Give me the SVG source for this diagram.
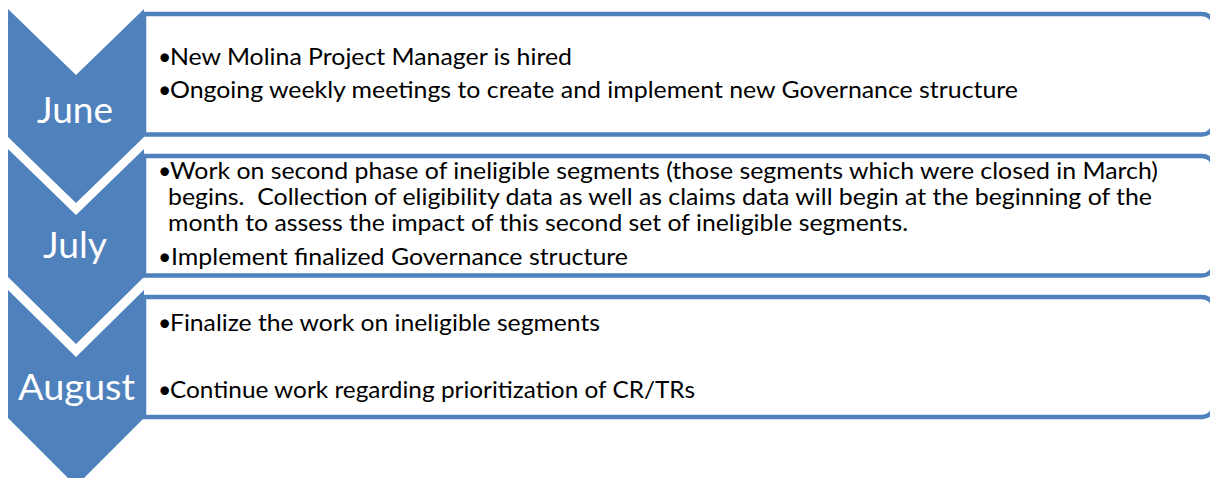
<svg xmlns="http://www.w3.org/2000/svg" width="1210" height="478" viewBox="0 0 1210 478">
<defs>
<style>
.chev{fill:#4F81BD;}
.box{fill:#FFFFFF;stroke:#4F81BD;stroke-width:4.5;}
.month{font-family:Lato,"Open Sans","Liberation Sans",sans-serif;font-size:36px;fill:#FFFFFF;text-anchor:middle;}
.item{font-family:Lato,"Open Sans","Liberation Sans",sans-serif;font-size:23px;fill:#000000;}
</style>
</defs>
<rect width="1210" height="478" fill="#FFFFFF"/>
<g id="june">
<path class="chev" d="M8,9 L76,75 L144,9 L144,137 L76,203 L8,137 Z"/>
<path class="box" d="M144,14 H1202 A12,12 0 0 1 1214,26 V122.5 A12,12 0 0 1 1202,134.5 H144 Z"/>
<text class="month" x="75" y="123" textLength="76" lengthAdjust="spacingAndGlyphs">June</text>
<text class="item" y="65"><tspan x="158">•</tspan><tspan x="170" textLength="402" lengthAdjust="spacingAndGlyphs">New Molina Project Manager is hired</tspan></text>
<text class="item" y="98"><tspan x="158">•</tspan><tspan x="170" textLength="848" lengthAdjust="spacingAndGlyphs">Ongoing weekly meetings to create and implement new Governance structure</tspan></text>
</g>
<g id="july">
<path class="chev" d="M8,149 L76,215 L144,149 L144,277 L76,344 L8,277 Z"/>
<path class="box" d="M144,156 H1202 A12,12 0 0 1 1214,168 V263.5 A12,12 0 0 1 1202,275.5 H144 Z"/>
<text class="month" x="75" y="258" textLength="64" lengthAdjust="spacingAndGlyphs">July</text>
<text class="item" y="179"><tspan x="158">•</tspan><tspan x="170" textLength="988" lengthAdjust="spacingAndGlyphs">Work on second phase of ineligible segments (those segments which were closed in March)</tspan></text>
<text class="item" x="168" y="205" textLength="984" lengthAdjust="spacingAndGlyphs" xml:space="preserve">begins.  Collection of eligibility data as well as claims data will begin at the beginning of the</text>
<text class="item" x="168" y="231" textLength="740" lengthAdjust="spacingAndGlyphs">month to assess the impact of this second set of ineligible segments.</text>
<text class="item" y="265"><tspan x="158">•</tspan><tspan x="171" textLength="457" lengthAdjust="spacingAndGlyphs">Implement finalized Governance structure</tspan></text>
</g>
<g id="august">
<path class="chev" d="M8,290 L76,357 L144,290 L144,418 L76,486 L8,418 Z"/>
<path class="box" d="M144,297 H1202 A12,12 0 0 1 1214,309 V405 A12,12 0 0 1 1202,417 H144 Z"/>
<text class="month" x="76.5" y="400" textLength="117" lengthAdjust="spacingAndGlyphs">August</text>
<text class="item" y="331"><tspan x="158">•</tspan><tspan x="170" textLength="430" lengthAdjust="spacingAndGlyphs">Finalize the work on ineligible segments</tspan></text>
<text class="item" y="398"><tspan x="158">•</tspan><tspan x="170" textLength="525" lengthAdjust="spacingAndGlyphs">Continue work regarding prioritization of CR/TRs</tspan></text>
</g>
<g id="connectors"></g>
</svg>
